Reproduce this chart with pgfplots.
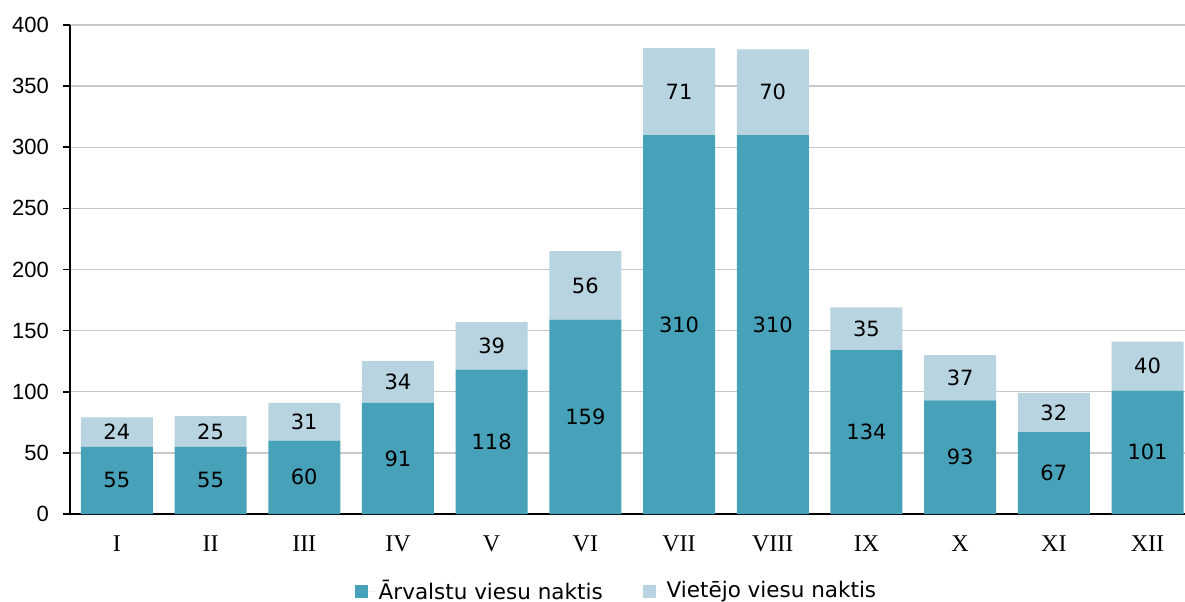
\documentclass[border=0pt]{standalone}
\usepackage{fontspec}
\setmainfont{DejaVu Sans}
\newfontfamily\yfont{Liberation Sans}
\newfontfamily\xfont{Liberation Serif}
\usepackage{pgfplots}
\pgfplotsset{compat=1.18}
\definecolor{darkb}{HTML}{47A1B9}
\definecolor{lightb}{HTML}{B7D4E0}
\definecolor{gridc}{HTML}{C8C8C8}
\begin{document}
\begin{tikzpicture}
\begin{axis}[
  x=46.85pt, y=0.61125pt,
  xmin=-0.5, xmax=11.4, ymin=0, ymax=400,
  ybar stacked, bar width=36pt,
  axis x line*=bottom, axis y line*=left,
  axis line style={line width=0.9pt},
  ytick={0,50,...,400},
  ymajorgrids, grid style={gridc, line width=0.7pt},
  yticklabel style={font=\yfont\fontsize{11}{13}\selectfont, xshift=-3.5pt},
  /pgf/number format/assume math mode=true,
  xtick={0,...,11},
  xticklabels={I,II,III,IV,V,VI,VII,VIII,IX,X,XI,XII},
  xticklabel style={font=\xfont\fontsize{12}{14}\selectfont, yshift=-4pt},
  x tick style={draw=none},
  y tick style={black, line width=0.8pt},
  tick align=outside, major tick length=3.5pt,
  extra x ticks={-0.5,0.5,...,10.5},
  extra x tick labels={},
  extra x tick style={grid=none, tick style={draw=black, line width=0.7pt}, major tick length=3.5pt},
  nodes near coords,
  every node near coord/.append style={font=\fontsize{10.5}{12}\selectfont, anchor=center},
  legend style={at={(axis description cs:0.491,0)}, anchor=center, yshift=-38.5pt, draw=none,
    font=\fontsize{10.75}{12}\selectfont, legend columns=2,
    /tikz/every even column/.append style={column sep=18pt}},
  legend image code/.code={\fill[#1] (0pt,-3.25pt) rectangle (6.5pt,3.25pt); \path (0pt,0pt) -- (10pt,0pt);},
]
\addplot[fill=darkb, draw=none] coordinates {(0,55) (1,55) (2,60) (3,91) (4,118) (5,159) (6,310) (7,310) (8,134) (9,93) (10,67) (11,101)};
\addplot[fill=lightb, draw=none] coordinates {(0,24) (1,25) (2,31) (3,34) (4,39) (5,56) (6,71) (7,70) (8,35) (9,37) (10,32) (11,40)};
\legend{Ārvalstu viesu naktis, Vietējo viesu naktis}
\end{axis}
\pgfresetboundingbox
\path (-35pt,-43.5pt) rectangle (557.5pt,257pt);
\end{tikzpicture}
\end{document}
